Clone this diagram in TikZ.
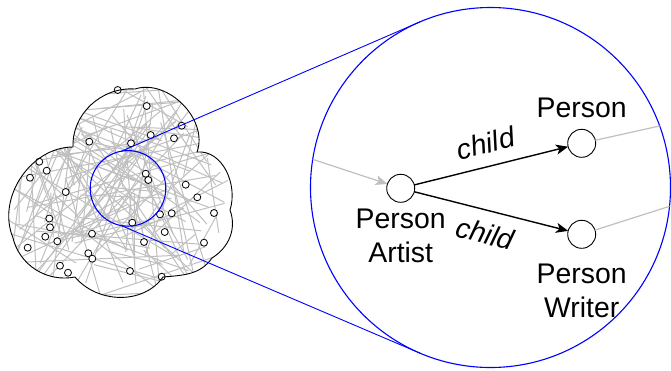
\documentclass[tikz,border=0pt]{standalone}
\usepackage{fontspec}
\setmainfont{Liberation Sans}
\usepackage{tikz}
\usetikzlibrary{arrows.meta,positioning}
\definecolor{ringblue}{HTML}{0000FF}
\definecolor{meshgray}{HTML}{BFBFBF}
\newcommand{\cloudoutline}{(73,-147) to[out=92,in=176] (135,-89)
  to[out=18,in=70] (197,-152) to[out=5,in=72] (230,-210)
  to[out=-70,in=32] (212,-258) to[out=-125,in=5] (163,-277)
  to[out=-125,in=-50] (75,-277) to[out=-169,in=-77] (12.7,-237)
  to[out=112,in=180] cycle}

\begin{document}
\begin{tikzpicture}[
  x=1bp, y=1bp,
  font=\fontsize{28.5}{35}\selectfont,
  ent/.style={circle, draw, line width=0.9bp, minimum size=28bp,
              inner sep=0pt, outer sep=0pt},
  vtx/.style={circle, draw, fill=white, line width=0.8bp, minimum size=7bp,
              inner sep=0pt},
  ring/.style={circle, draw=ringblue, line width=1.1bp, inner sep=0pt,
               outer sep=0pt},
  lbl/.style={inner sep=0pt, align=center},
  mesh/.style={draw=meshgray, line width=1bp},
  rel/.style={-{Stealth[length=12bp, width=10bp, inset=3bp]}, line width=1.4bp},
  faint/.style={draw=meshgray, line width=1.2bp},
  cue/.style={midway, sloped, inner sep=0pt, font=\fontsize{28.5}{35}\selectfont\itshape}
]
\useasboundingbox (0,0) rectangle (671,-370);

% the whole graph
\begin{scope}
\clip \cloudoutline;
\pgfmathsetseed{11}
\foreach \k in {1,...,140}{
  \pgfmathsetmacro\xa{5+230*rnd}
  \pgfmathsetmacro\ya{-85-215*rnd}
  \pgfmathsetmacro\xb{5+230*rnd}
  \pgfmathsetmacro\yb{-85-215*rnd}
  \draw[mesh] (\xa,\ya) -- (\xb,\yb);
}
\end{scope}
\foreach \x/\y [count=\i] in {117.7/90, 146.7/106, 181.7/125.7, 150.7/135,
    174/138.3, 89.3/141.7, 131/143.3, 39.3/161.7, 46.7/170.7, 30/177.7,
    145.7/173.7, 148.3/180, 65.7/192, 185.7/184.7, 197.3/197.3, 214/213,
    160/214.3, 171.7/213.3, 132.3/222.7, 49.3/218.5, 50/227.3, 45.3/236.7,
    57.3/241.3, 92/233.7, 164.7/232, 144/242, 204/242.7, 27.7/247.7,
    88.3/253.3, 92.3/258.7, 60/265.7, 68/272.7, 130/271, 161.7/276.7}
  \node[vtx] (v\i) at (\x,-\y) {};
\draw[line width=0.9bp] \cloudoutline;

% zoomed part
\node[ring, minimum size=75.6bp] (zoom) at (128,-188.4) {};
\node[ring, minimum size=360bp] (big) at (490.5,-187.5) {};
\draw[ringblue, line width=0.9bp] (zoom.100) -- (big.113.4);
\draw[ringblue, line width=0.9bp] (zoom.-100) -- (big.-113.1);

\node[ent] (artist) at (400.7,-188.3) {};
\node[ent] (person) at (581.7,-143.3) {};
\node[ent] (writer) at (581.7,-234.3) {};
\node[lbl, above=11bp of person] (personlbl) {Person};
\node[lbl, below=6bp of artist] (artistlbl) {Person\\Artist};
\node[lbl, below=15bp of writer] (writerlbl) {Person\\Writer};

\draw[faint, -{Stealth[length=12bp, width=10bp, inset=3bp]}] (big.171) -- (artist);
\draw[faint] (person) -- (big.20);
\draw[faint] (writer) -- (big.-6.4);
\draw[rel] (artist) -- node[cue, above=12bp] {child} (person);
\draw[rel] (artist) -- node[cue, below=12bp] {child} (writer);
\end{tikzpicture}
\end{document}
